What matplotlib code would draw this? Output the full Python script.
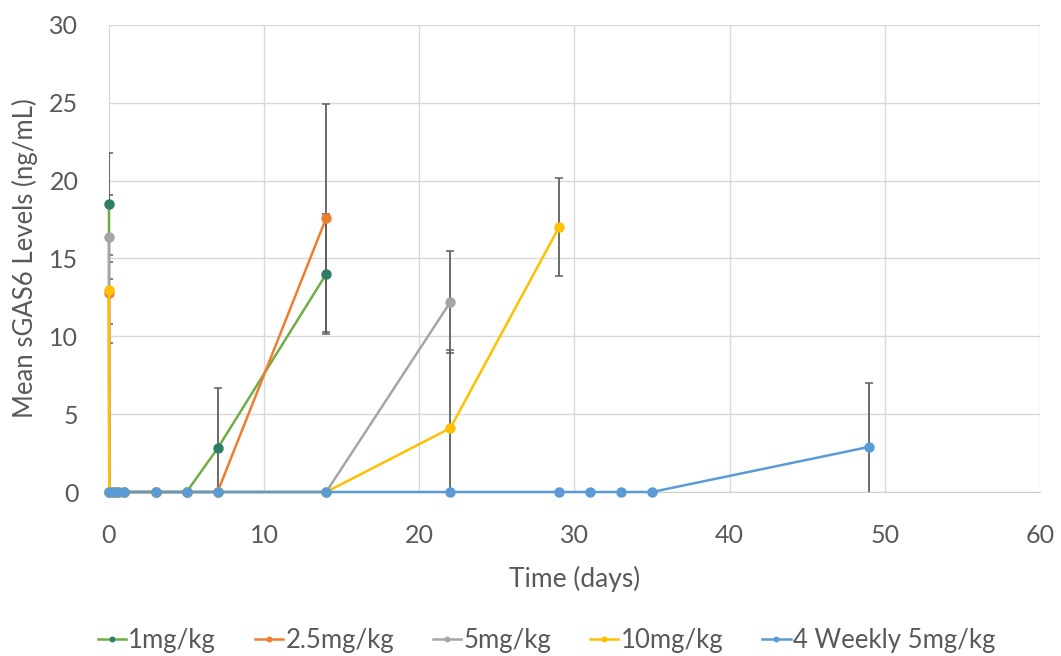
import numpy as np
import matplotlib.pyplot as plt

plt.rcParams['font.family'] = ['Lato', 'DejaVu Sans']

# time points (days)
t_1mg = [0, 0.02, 0.3, 0.6, 1, 3, 5, 7, 14]
v_1mg = [18.5, 0, 0, 0, 0, 0, 0, 2.8, 14.0]
e_1mg = [3.3, 0, 0, 0, 0, 0, 0, 3.9, 3.85]

t_25mg = [0, 0.02, 0.3, 0.6, 1, 3, 5, 7, 14]
v_25mg = [12.8, 0, 0, 0, 0, 0, 0, 0, 17.6]
e_25mg = [2.0, 0, 0, 0, 0, 0, 0, 0, 7.3]

t_5mg = [0, 0.02, 0.3, 0.6, 1, 3, 5, 7, 14, 22]
v_5mg = [16.4, 0, 0, 0, 0, 0, 0, 0, 0, 12.2]
e_5mg = [2.7, 0, 0, 0, 0, 0, 0, 0, 0, 3.3]

t_10mg = [0, 0.02, 0.3, 0.6, 1, 3, 5, 7, 14, 22, 29]
v_10mg = [13.0, 0, 0, 0, 0, 0, 0, 0, 0, 4.1, 17.0]
e_10mg = [3.4, 0, 0, 0, 0, 0, 0, 0, 0, 5.0, 3.15]

t_weekly = [0, 0.3, 0.6, 1, 3, 5, 7, 14, 22, 29, 31, 33, 35, 49]
v_weekly = [0, 0, 0, 0, 0, 0, 0, 0, 0, 0, 0, 0, 0, 2.9]
e_weekly = [0, 0, 0, 0, 0, 0, 0, 0, 0, 0, 0, 0, 0, 4.1]

series = [
    ('1mg/kg', t_1mg, v_1mg, e_1mg, '#70AD47', '#2E7D66'),
    ('2.5mg/kg', t_25mg, v_25mg, e_25mg, '#ED7D31', '#ED7D31'),
    ('5mg/kg', t_5mg, v_5mg, e_5mg, '#A5A5A5', '#A5A5A5'),
    ('10mg/kg', t_10mg, v_10mg, e_10mg, '#FFC000', '#FFC000'),
    ('4 Weekly 5mg/kg', t_weekly, v_weekly, e_weekly, '#5B9BD5', '#5B9BD5'),
]

fig = plt.figure(figsize=(10.61, 6.56), dpi=100)
ax = fig.add_axes([0.1027, 0.25, 0.8775, 0.712])

for name, t, v, e, lc, mc in series:
    ax.plot(t, v, color=lc, lw=1.8, marker='o', ms=6.5, mfc=mc, mec=mc,
            label=name, zorder=3, clip_on=False)
    t = np.array(t)
    v = np.array(v)
    e = np.array(e)
    m = e > 0
    ax.errorbar(t[m], v[m], yerr=e[m], fmt='none', ecolor='#5F5F5F',
                elinewidth=1.3, capsize=3, capthick=1.1, zorder=2)

ax.set_xlim(0, 60)
ax.set_ylim(0, 30)
ax.set_xticks(range(0, 61, 10))
ax.set_yticks(range(0, 31, 5))
ax.grid(True, color='#D9D9D9', lw=1)
ax.set_axisbelow(True)
for s in ax.spines.values():
    s.set_visible(False)
ax.spines['bottom'].set_visible(True)
ax.spines['bottom'].set_color('#D0D0D0')
ax.tick_params(length=0, labelsize=18, colors='#595959')
ax.tick_params(axis='x', pad=23)
ax.tick_params(axis='y', pad=22)

ax.set_xlabel('Time (days)', fontsize=19, color='#595959', labelpad=14)
ax.set_ylabel('Mean sGAS6 Levels (ng/mL)', fontsize=18.5, color='#595959', labelpad=8)

ax.legend(loc='center', bbox_to_anchor=(0.47, -0.317), ncol=5, frameon=False,
          fontsize=18.5, labelcolor='#595959', handlelength=1.1, handletextpad=0.1,
          columnspacing=1.5, markerscale=0.5)

fig.savefig('out.png', dpi=100)
